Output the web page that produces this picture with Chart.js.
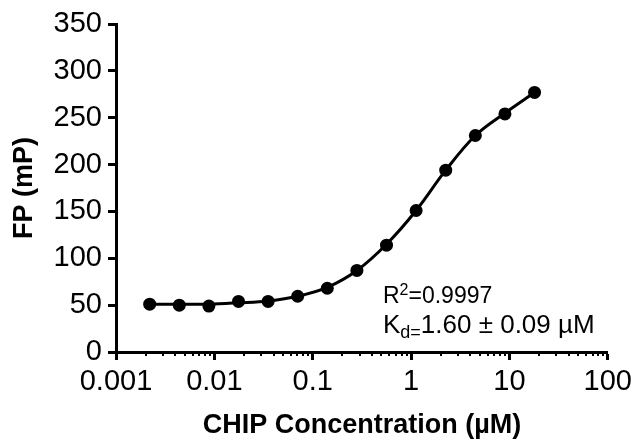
<!DOCTYPE html>
<html>
<head>
<meta charset="utf-8">
<script src="https://cdn.jsdelivr.net/npm/chart.js@4"></script>
<style>
  html, body { margin: 0; padding: 0; background: #fff; }
</style>
</head>
<body>
<canvas id="chartCanvas" width="637" height="442"></canvas>
<script>
// ---------- DATA ----------
const concentrations = [0.0022, 0.0044, 0.0088, 0.0176, 0.0352, 0.0703, 0.1406, 0.2813, 0.5625, 1.125, 2.25, 4.5, 9, 18];
const fpValues = [51, 50, 49, 54, 54, 59.5, 68, 87, 114, 151, 194, 231, 254, 277];
// fitted curve at the same concentrations
const fitValues = [51, 51, 51, 52.5, 54.5, 59.5, 69, 87, 115, 151, 194, 231, 255, 277];
const xTickValues = [0.001, 0.01, 0.1, 1, 10, 100];
const yTickValues = [0, 50, 100, 150, 200, 250, 300, 350];
const xTitle = "CHIP Concentration (µM)";
const yTitle = "FP (mP)";
const r2Text = "0.9997";
const kdText = "1.60 ± 0.09 µM";

const FONT = "'Liberation Sans', Arial, sans-serif";

// ----- minor ticks on the log axis -----
const minorTicks = {
  id: "minorTicks",
  afterDraw(chart){
    const xs = chart.scales.x;
    const ctx = chart.ctx;
    ctx.save();
    ctx.strokeStyle = "#000";
    ctx.lineWidth = 2;
    for(let d = 0.001; d < 100; d *= 10){
      for(let m = 2; m <= 9; m++){
        const px = Math.round(xs.getPixelForValue(d*m));
        ctx.beginPath();
        ctx.moveTo(px, xs.top);
        ctx.lineTo(px, xs.top + 4);
        ctx.stroke();
      }
    }
    ctx.restore();
  }
};

// ----- fit stats text -----
const fitLabel = {
  id: "fitLabel",
  afterDraw(chart){
    const ctx = chart.ctx;
    ctx.save();
    ctx.fillStyle = "#000";
    ctx.textBaseline = "alphabetic";
    ctx.textAlign = "left";
    let x = 383;
    ctx.font = "23px " + FONT;
    ctx.fillText("R", x, 303);
    x += ctx.measureText("R").width;
    ctx.font = "16px " + FONT;
    ctx.fillText("2", x, 295);
    x += ctx.measureText("2").width;
    ctx.font = "23px " + FONT;
    ctx.fillText("=" + r2Text, x, 303);

    x = 383;
    ctx.font = "26px " + FONT;
    ctx.fillText("K", x, 333);
    x += ctx.measureText("K").width;
    ctx.font = "18px " + FONT;
    ctx.fillText("d=", x, 338);
    x += ctx.measureText("d=").width;
    ctx.font = "26px " + FONT;
    ctx.fillText(kdText, x, 333);
    ctx.restore();
  }
};

const chart = new Chart(document.getElementById("chartCanvas"), {
  type: "scatter",
  data: {
    datasets: [{
      data: concentrations.map((c, i) => ({ x: c, y: fitValues[i] })),
      showLine: true,
      tension: 0.35,
      borderColor: "#000",
      borderWidth: 3,
      pointRadius: 0,
      clip: false
    }, {
      data: concentrations.map((c, i) => ({ x: c, y: fpValues[i] })),
      showLine: false,
      backgroundColor: "#000",
      pointRadius: 6.5,
      pointBorderWidth: 0,
      pointBackgroundColor: "#000",
      clip: false
    }]
  },
  options: {
    responsive: false,
    animation: false,
    layout: { padding: { left: 0, top: 24, right: 29, bottom: 0 } },
    plugins: { legend: { display: false }, tooltip: { enabled: false } },
    scales: {
      x: {
        type: "logarithmic",
        position: "bottom",
        min: 0.001,
        max: 100,
        afterBuildTicks: s => { s.ticks = xTickValues.map(v => ({ value: v, major: true })); },
        afterFit: s => { s.height = 90; },
        ticks: {
          autoSkip: false,
          maxRotation: 0,
          color: "#000",
          padding: 5,
          font: { family: FONT, size: 29 },
          callback: v => String(v)
        },
        grid: { drawOnChartArea: false, drawTicks: true, tickLength: 8, tickWidth: 3, tickColor: "#000" },
        border: { display: true, color: "#000", width: 3 },
        title: { display: true, text: xTitle, color: "#000", padding: { top: 0, bottom: 0 },
                 font: { family: FONT, size: 27, weight: "bold" } }
      },
      y: {
        min: 0,
        max: 350,
        afterBuildTicks: s => { s.ticks = yTickValues.map(v => ({ value: v })); },
        afterFit: s => { s.width = 116; },
        ticks: {
          color: "#000",
          padding: 6,
          font: { family: FONT, size: 29 }
        },
        grid: { drawOnChartArea: false, drawTicks: true, tickLength: 8, tickWidth: 3, tickColor: "#000" },
        border: { display: true, color: "#000", width: 3 },
        title: { display: true, text: yTitle, color: "#000", padding: { top: 8, bottom: 0 },
                 font: { family: FONT, size: 27, weight: "bold" } }
      }
    }
  },
  plugins: [minorTicks, fitLabel]
});
</script>
</body>
</html>
